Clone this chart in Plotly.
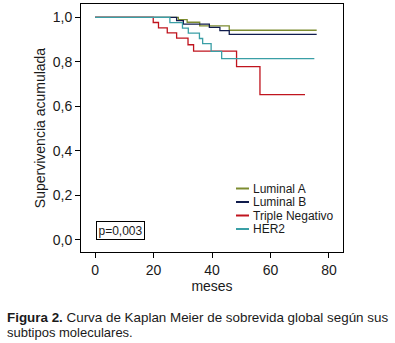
import plotly.graph_objects as go

# Kaplan-Meier step data (months, cumulative survival)
lumA_t = [0, 28.5, 31.5, 35.8, 45.9, 75.8]
lumA_s = [1.0, 0.99, 0.978, 0.962, 0.942, 0.942]

lumB_t = [0, 27.9, 30.2, 39.1, 42.7, 45.9, 75.8]
lumB_s = [1.0, 0.985, 0.97, 0.955, 0.94, 0.924, 0.924]

tn_t = [0, 19.9, 21.7, 24.7, 27.9, 31.8, 33.7, 48.4, 56.4, 71.8]
tn_s = [1.0, 0.977, 0.953, 0.93, 0.907, 0.877, 0.848, 0.779, 0.653, 0.653]

her2_t = [0, 25.6, 29.9, 31.9, 35.7, 36.8, 39.7, 43.3, 75.0]
her2_s = [1.0, 0.976, 0.952, 0.929, 0.905, 0.882, 0.847, 0.815, 0.815]

names = ["Luminal A", "Luminal B", "Triple Negativo", "HER2"]
colors = ["#7d8c30", "#101c4c", "#c0141e", "#3a9fa6"]
series = [(lumA_t, lumA_s), (lumB_t, lumB_s), (tn_t, tn_s), (her2_t, her2_s)]

x_ticks = [0, 20, 40, 60, 80]
y_ticks = [0.0, 0.2, 0.4, 0.6, 0.8, 1.0]
p_text = "p=0,003"

FONT = "Liberation Sans, Arial, sans-serif"
TXT = "#1a1a1a"

fig = go.Figure()
for (t, s), nm, c in zip(series, names, colors):
    fig.add_trace(go.Scatter(x=t, y=s, mode="lines", line=dict(shape="hv", color=c, width=1.3),
                             name=nm, showlegend=False, hoverinfo="skip"))

W, H = 395, 343
L, R, T, B = 81, 52, 4, 91
fig.update_layout(
    width=W, height=H,
    margin=dict(l=L, r=R, t=T, b=B),
    paper_bgcolor="white", plot_bgcolor="white",
    separators=",.",
    font=dict(family=FONT, size=14, color=TXT),
    xaxis=dict(range=[-4.8, 84.8], tickvals=x_ticks, ticks="outside", ticklen=5, tickcolor="black",
               showline=True, linecolor="black", linewidth=1, mirror=True, showgrid=False, zeroline=False,
               title=dict(text="meses", standoff=4, font=dict(size=14)), tickfont=dict(size=14)),
    yaxis=dict(range=[-0.054, 1.06], tickvals=y_ticks, tickformat=".1f", ticks="outside", ticklen=5,
               tickcolor="black", showline=True, linecolor="black", linewidth=1, mirror=True,
               showgrid=False, zeroline=False,
               title=dict(text="Supervivencia acumulada", standoff=3, font=dict(size=14)), tickfont=dict(size=14)),
)

pw = W - L - R
ph = H - T - B
def px_x(x):
    return (x - L) / pw
def px_y(y):
    return 1 - (y - T) / ph

# manual legend
leg_y = [188.5, 202, 215.5, 229]
for nm, c, yy in zip(names, colors, leg_y):
    fig.add_shape(type="line", xref="paper", yref="paper", x0=px_x(236), x1=px_x(249),
                  y0=px_y(yy), y1=px_y(yy), line=dict(color=c, width=2))
    fig.add_annotation(xref="paper", yref="paper", x=px_x(251), y=px_y(yy), text=nm, showarrow=False,
                       xanchor="left", yanchor="middle", font=dict(size=12, color=TXT))

# p-value box
fig.add_annotation(xref="paper", yref="paper", x=px_x(120.5), y=px_y(230.5), text=p_text, showarrow=False,
                   xanchor="center", yanchor="middle", font=dict(size=12, color=TXT),
                   bordercolor="black", borderwidth=1, borderpad=1.5, bgcolor="white")

# caption
fig.add_annotation(xref="paper", yref="paper", x=px_x(5), y=px_y(317.5), xanchor="left", yanchor="middle",
                   showarrow=False, align="left", font=dict(size=13.4, color=TXT),
                   text="<b>Figura 2.</b> Curva de Kaplan Meier de sobrevida global según sus")
fig.add_annotation(xref="paper", yref="paper", x=px_x(5), y=px_y(332), xanchor="left", yanchor="middle",
                   showarrow=False, align="left", font=dict(size=13, color=TXT),
                   text="subtipos moleculares.")

fig.write_html("out.html", config={"displayModeBar": False},
               post_script="document.body.style.margin='0';")
